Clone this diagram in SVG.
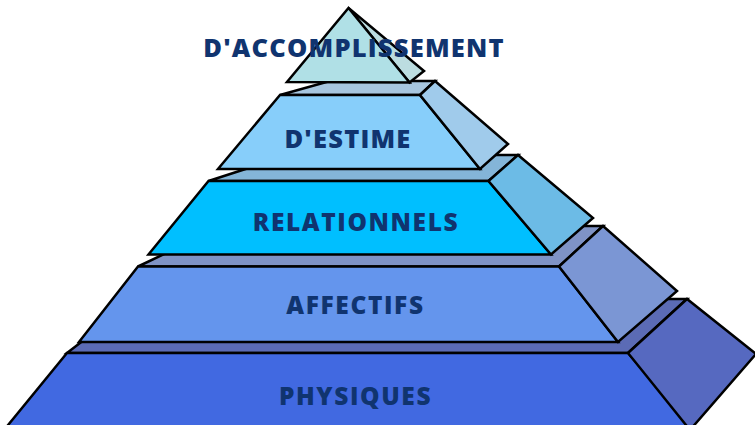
<svg xmlns="http://www.w3.org/2000/svg" width="755" height="425" viewBox="0 0 755 425">
  <style>
    polygon { stroke: #000; stroke-width: 2.5; stroke-linejoin: miter; }
    .lbl { font-family: "Open Sans", "Liberation Sans", sans-serif; font-weight: 800; font-size: 24.5px; fill: #10346f; text-anchor: middle; letter-spacing: 1.6px; }
    .big { font-size: 25.5px; letter-spacing: 1.2px; }
  </style>
  <rect width="755" height="425" fill="#ffffff"/>

  <g id="level-physiques">
    <polygon points="67,353 137,299 687,299 628,353" fill="#5b6bb5"/>
    <polygon points="67,353 628,353 694,430 4,430" fill="#4169e1"/>
    <polygon points="628,353 687,299 756,354 690,430" fill="#5669c0"/>
  </g>

  <g id="level-affectifs">
    <polygon points="138,266.5 223,226 603,226 559,266.5" fill="#7f93c6"/>
    <polygon points="138,266.5 559,266.5 618,342 79,342" fill="#6495ed"/>
    <polygon points="559,266.5 603,226 677,291 618,342" fill="#7b96d4"/>
  </g>

  <g id="level-relationnels">
    <polygon points="208.5,181 289,155 518,155 488.5,181" fill="#84b5d8"/>
    <polygon points="208.5,181 488.5,181 551,254.5 148.5,254.5" fill="#00bfff"/>
    <polygon points="488.5,181 518,155 593,218 551,254.5" fill="#6cbbe6"/>
  </g>

  <g id="level-estime">
    <polygon points="280,95 330,81 435,81 420,95" fill="#a7c6df"/>
    <polygon points="280,95 420,95 480,169 218,169" fill="#87cefa"/>
    <polygon points="420,95 435,81 508,144 480,169" fill="#a0cbeb"/>
  </g>

  <g id="level-accomplissement">
    <polygon points="348.5,8 424,71 409.5,82.5" fill="#bcdde0"/>
    <polygon points="348.5,8 409.5,82.5 287,82" fill="#b0e0e6"/>
  </g>

  <g id="labels">
    <text class="lbl big" x="354" y="56.5">D'ACCOMPLISSEMENT</text>
    <text class="lbl big" x="348" y="147.5">D'ESTIME</text>
    <text class="lbl" x="356" y="230.7">RELATIONNELS</text>
    <text class="lbl" x="355.5" y="314.3">AFFECTIFS</text>
    <text class="lbl" x="355.5" y="405">PHYSIQUES</text>
  </g>
</svg>
